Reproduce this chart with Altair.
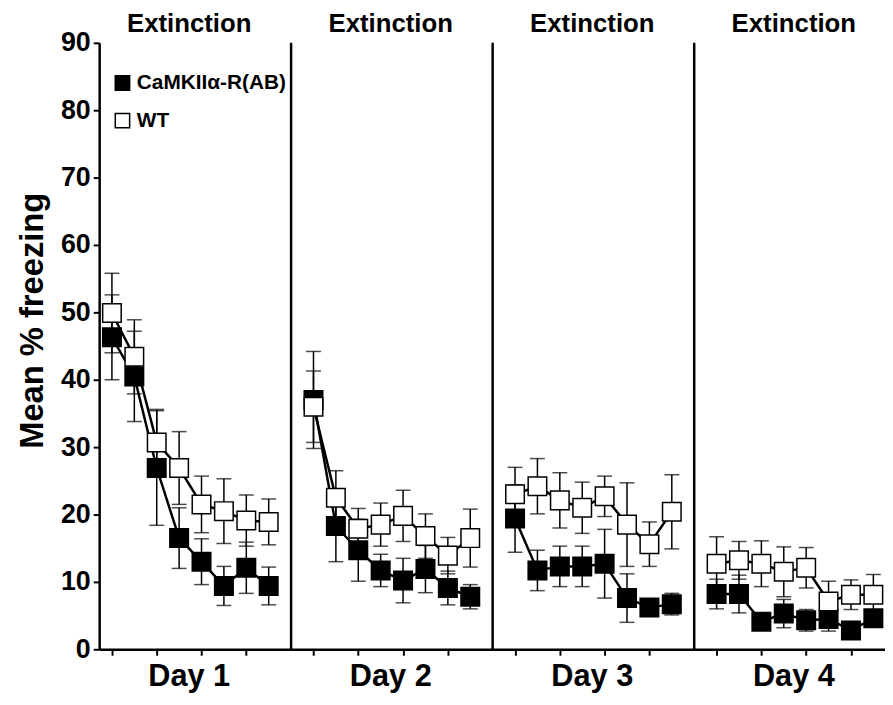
import altair as alt
import pandas as pd

days = ["Day 1", "Day 2", "Day 3", "Day 4"]
groups = ["CaMKIIα-R(AB)", "WT"]
n_trials = 8

camk_mean = [46.3, 40.5, 26.9, 16.5, 13.0, 9.4, 12.1, 9.4,
             37.0, 18.3, 14.7, 11.7, 10.2, 11.9, 9.1, 7.8,
             19.4, 11.7, 12.3, 12.3, 12.7, 7.6, 6.2, 6.7,
             8.2, 8.2, 4.1, 5.3, 4.3, 4.5, 2.8, 4.6]
camk_sem = [6.3, 6.7, 8.5, 4.5, 3.4, 2.9, 3.8, 2.8,
            7.2, 5.3, 4.6, 2.4, 3.3, 3.5, 2.5, 1.8,
            5.0, 3.0, 3.0, 3.0, 5.1, 3.6, 1.0, 1.6,
            2.2, 2.8, 0.5, 2.1, 1.6, 1.8, 1.0, 1.2]
wt_mean = [49.9, 43.4, 30.7, 26.9, 21.5, 20.5, 19.1, 18.9,
           36.0, 22.5, 17.9, 18.5, 19.8, 16.8, 13.9, 16.5,
           23.0, 24.2, 22.1, 21.0, 22.7, 18.5, 15.6, 20.4,
           12.7, 13.2, 12.7, 11.5, 12.1, 7.1, 8.1, 8.1]
wt_sem = [5.9, 5.5, 4.9, 5.4, 4.2, 4.8, 3.8, 3.4,
          5.3, 4.0, 3.0, 3.2, 3.8, 3.3, 2.7, 4.3,
          4.0, 4.1, 4.1, 3.8, 3.0, 6.2, 3.3, 5.5,
          4.0, 2.8, 3.4, 3.7, 3.0, 3.0, 2.2, 3.0]

rows = []
for gi, (g, means, sems) in enumerate([(groups[0], camk_mean, camk_sem),
                                       (groups[1], wt_mean, wt_sem)]):
    for d in range(len(days)):
        for t in range(n_trials):
            i = d * n_trials + t
            rows.append(dict(group=g, order=gi, day=days[d],
                             seg=f"{g}-{d}", pos=d * 9 + t + 1,
                             mean=means[i], lo=means[i] - sems[i],
                             hi=means[i] + sems[i]))
df = pd.DataFrame(rows)

tick_positions = [d * 9 + t + 1 for d in range(4) for t in range(n_trials)]
labels_df = pd.DataFrame({"pos": [d * 9 + 4.45 for d in range(4)],
                          "day": days,
                          "ext": ["Extinction"] * 4,
                          "ybot": [-5.5] * 4,
                          "ytop": [92.8] * 4})
div_df = pd.DataFrame({"pos": [9, 18, 27], "y0": [0, 0, 0], "y1": [90, 90, 90]})

FONT = "Liberation Sans"
xs = alt.Scale(domain=[0.43, 35.52], nice=False, zero=False)
ys = alt.Scale(domain=[0, 90], nice=False, zero=False)

x_axis = alt.Axis(values=tick_positions, labels=False, ticks=True, tickSize=6,
                  tickWidth=2, tickColor="black", domainColor="black",
                  domainWidth=2.5, grid=False, title=None)
y_axis = alt.Axis(values=list(range(0, 91, 10)), labelFont=FONT, labelFontSize=27,
                  labelFontWeight="bold", labelColor="black", labelPadding=3,
                  tickSize=6, tickWidth=2, tickColor="black", domainColor="black",
                  domainWidth=2.5, grid=False, title="Mean % freezing",
                  titleFont=FONT, titleFontSize=33, titleFontWeight="bold",
                  titleColor="black", titlePadding=11, titleY=280)

base = alt.Chart(df)
X = alt.X("pos:Q", scale=xs, axis=x_axis)

dividers = alt.Chart(div_df).mark_rule(color="black", strokeWidth=2.5).encode(
    x=alt.X("pos:Q", scale=xs), y=alt.Y("y0:Q", scale=ys), y2="y1:Q")

err = base.mark_rule(color="black", strokeWidth=1.5).encode(
    x=X, y=alt.Y("lo:Q", scale=ys, axis=y_axis), y2="hi:Q")
cap_lo = base.mark_tick(color="black", thickness=1.5, size=15, orient="horizontal").encode(
    x=alt.X("pos:Q", scale=xs), y=alt.Y("lo:Q", scale=ys))
cap_hi = base.mark_tick(color="black", thickness=1.5, size=15, orient="horizontal").encode(
    x=alt.X("pos:Q", scale=xs), y=alt.Y("hi:Q", scale=ys))

lines = base.mark_line(color="black", strokeWidth=2.5).encode(
    x=alt.X("pos:Q", scale=xs), y=alt.Y("mean:Q", scale=ys), detail="seg:N")

points = base.mark_point(shape="square", size=350, filled=True, stroke="black",
                         strokeWidth=1.5, opacity=1).encode(
    x=alt.X("pos:Q", scale=xs), y=alt.Y("mean:Q", scale=ys),
    fill=alt.Fill("group:N", scale=alt.Scale(domain=groups, range=["black", "white"]),
                  legend=alt.Legend(title=None, orient="none", legendX=13, legendY=30,
                                    symbolType="square", symbolSize=210,
                                    symbolStrokeColor="black", symbolStrokeWidth=1.5,
                                    labelFont=FONT, labelFontSize=21,
                                    labelFontWeight="bold", labelColor="black",
                                    labelOffset=4, rowPadding=16)),
    order=alt.Order("order:Q"))

day_text = alt.Chart(labels_df).mark_text(font=FONT, fontSize=31, fontWeight="bold",
                                          color="black", baseline="alphabetic").encode(
    x=alt.X("pos:Q", scale=xs), y=alt.Y("ybot:Q", scale=ys), text="day:N")
ext_text = alt.Chart(labels_df).mark_text(font=FONT, fontSize=26, fontWeight="bold",
                                          color="black", baseline="middle").encode(
    x=alt.X("pos:Q", scale=xs), y=alt.Y("ytop:Q", scale=ys), text="ext:N")

chart = alt.layer(err, cap_lo, cap_hi, dividers, lines, points, day_text, ext_text).properties(
    width=793, height=612,
    padding={"left": 92, "top": 32, "right": 0, "bottom": 44},
    autosize=alt.AutoSizeParams(type="none"),
    background="white",
).configure_view(stroke=None)

chart.save("out.html", embed_options={"renderer": "svg", "actions": False})
